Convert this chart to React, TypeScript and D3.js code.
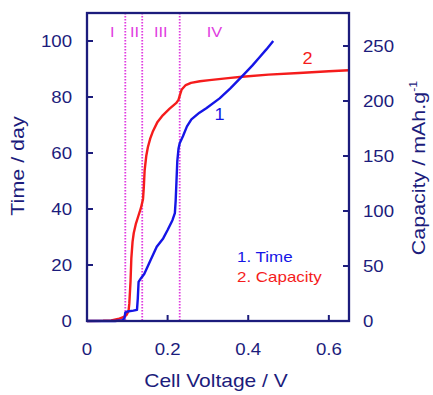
import React from "react";
import * as d3 from "d3";

// Time (days) versus cell voltage
const timeSeries: [number, number][] = [
  [0, 0], [0.07, 0], [0.088, 0.3], [0.093, 1], [0.095, 3], [0.1, 3.4], [0.115, 3.7],
  [0.124, 4], [0.126, 8], [0.128, 14], [0.134, 15.3], [0.142, 16.8], [0.157, 21.5],
  [0.173, 26.5], [0.189, 29.5], [0.2, 32.5], [0.212, 36], [0.218, 38.5], [0.22, 43],
  [0.222, 50], [0.224, 57], [0.227, 61.5], [0.23, 63.5], [0.238, 66], [0.248, 69.5],
  [0.259, 72], [0.279, 74.4], [0.296, 76], [0.329, 79.5], [0.355, 83], [0.384, 87.3],
  [0.41, 91.2], [0.427, 94], [0.445, 97], [0.462, 100],
];

// Capacity (mAh/g) versus cell voltage
const capacitySeries: [number, number][] = [
  [0, 0], [0.04, 0.2], [0.06, 0.6], [0.077, 1.8], [0.09, 3.5], [0.098, 5.5], [0.103, 9],
  [0.105, 16], [0.108, 36], [0.11, 57], [0.113, 72], [0.116, 80], [0.121, 88], [0.127, 95],
  [0.134, 103], [0.139, 111], [0.141, 122], [0.143, 137], [0.147, 150], [0.151, 158],
  [0.157, 166], [0.163, 172], [0.175, 181], [0.188, 187], [0.205, 193], [0.221, 198],
  [0.227, 201], [0.231, 206], [0.235, 210.5], [0.245, 214.5], [0.258, 216.5], [0.28, 218],
  [0.304, 219], [0.356, 221], [0.385, 222], [0.45, 224], [0.526, 225.5], [0.6, 227], [0.65, 228],
];

// Region boundaries (V) and their labels
const regionBounds = [0.095, 0.137, 0.23];
const regionLabels = [
  { text: "I", v: 0.063 },
  { text: "II", v: 0.118 },
  { text: "III", v: 0.183 },
  { text: "IV", v: 0.316 },
];

const xTicks = [0, 0.2, 0.4, 0.6];
const timeTicks = [0, 20, 40, 60, 80, 100];
const capTicks = [0, 50, 100, 150, 200, 250];

const NAVY = "#1c1c7c";
const BLUE = "#1515e6";
const RED = "#f51c1c";
const MAGENTA = "#e03ce0";
const FONT = "'Liberation Sans', Arial, sans-serif";
const SX = 1.13; // horizontal glyph stretch

export default function App() {
  const left = 87, right = 349, top = 13, bottom = 321;
  const x = d3.scaleLinear().domain([0, 0.65]).range([left, right]);
  const yT = d3.scaleLinear().domain([0, 110]).range([bottom, top]);
  const yC = d3.scaleLinear().domain([0, 280]).range([bottom, top]);

  const timeLine = d3.line<[number, number]>().x((d) => x(d[0])).y((d) => yT(d[1]));
  const capLine = d3.line<[number, number]>().x((d) => x(d[0])).y((d) => yC(d[1]));

  const T = (
    tx: number,
    ty: number,
    s: string,
    opts: { size: number; anchor?: string; fill?: string; rot?: number; key?: string }
  ) => (
    <text
      key={opts.key}
      transform={`translate(${tx},${ty}) rotate(${opts.rot ?? 0}) scale(${SX},1)`}
      fontSize={opts.size}
      fontFamily={FONT}
      textAnchor={opts.anchor ?? "start"}
      fill={opts.fill ?? NAVY}
    >
      {s}
    </text>
  );

  return (
    <svg
      width={433}
      height={395}
      style={{ position: "absolute", left: 0, top: 0, background: "#fff" }}
    >
      {/* region dividers */}
      {regionBounds.map((v) => (
        <line
          key={v}
          x1={x(v)}
          x2={x(v)}
          y1={top}
          y2={bottom}
          stroke={MAGENTA}
          strokeWidth={1.8}
          strokeDasharray="1.6,1.4"
        />
      ))}
      {regionLabels.map((r) =>
        T(x(r.v), 37, r.text, { size: 14.5, anchor: "middle", fill: MAGENTA, key: r.text })
      )}

      {/* data curves */}
      <path d={capLine(capacitySeries) ?? ""} fill="none" stroke={RED} strokeWidth={2.4} strokeLinejoin="round" />
      <path d={timeLine(timeSeries) ?? ""} fill="none" stroke={BLUE} strokeWidth={2.4} strokeLinejoin="round" />

      {/* curve labels */}
      {T(219.5, 120, "1", { size: 16, anchor: "middle", fill: BLUE })}
      {T(307.5, 64, "2", { size: 16, anchor: "middle", fill: RED })}

      {/* legend */}
      {T(237, 262, "1. Time", { size: 15, fill: BLUE })}
      {T(237, 282, "2. Capacity", { size: 15, fill: RED })}

      {/* frame */}
      <rect x={left} y={top} width={right - left} height={bottom - top} fill="none" stroke={NAVY} strokeWidth={2.3} />

      {/* bottom axis */}
      {xTicks.map((t) => (
        <g key={`x${t}`}>
          {t > 0 && <line x1={x(t)} x2={x(t)} y1={bottom} y2={bottom - 6} stroke={NAVY} strokeWidth={2} />}
          {T(x(t), 355, String(t), { size: 16.5, anchor: "middle" })}
        </g>
      ))}

      {/* left axis */}
      {timeTicks.map((t) => (
        <g key={`l${t}`}>
          {t > 0 && <line x1={left} x2={left + 6} y1={yT(t)} y2={yT(t)} stroke={NAVY} strokeWidth={2} />}
          {T(72, yT(t) + 6, String(t), { size: 16.5, anchor: "end" })}
        </g>
      ))}

      {/* right axis */}
      {capTicks.map((t) => (
        <g key={`r${t}`}>
          {t > 0 && <line x1={right} x2={right - 6} y1={yC(t)} y2={yC(t)} stroke={NAVY} strokeWidth={2} />}
          {T(363, yC(t) + 6, String(t), { size: 16.5, anchor: "start" })}
        </g>
      ))}

      {/* axis titles */}
      {T(216, 387, "Cell Voltage / V", { size: 18.6, anchor: "middle" })}
      {T(24, 166, "Time / day", { size: 19, anchor: "middle", rot: -90 })}
      <text
        transform={`translate(425,168) rotate(-90) scale(${SX},1)`}
        fontSize={19}
        fontFamily={FONT}
        textAnchor="middle"
        fill={NAVY}
      >
        Capacity / mAh.g
        <tspan fontSize={11} dy={-8}>-1</tspan>
      </text>
    </svg>
  );
}
